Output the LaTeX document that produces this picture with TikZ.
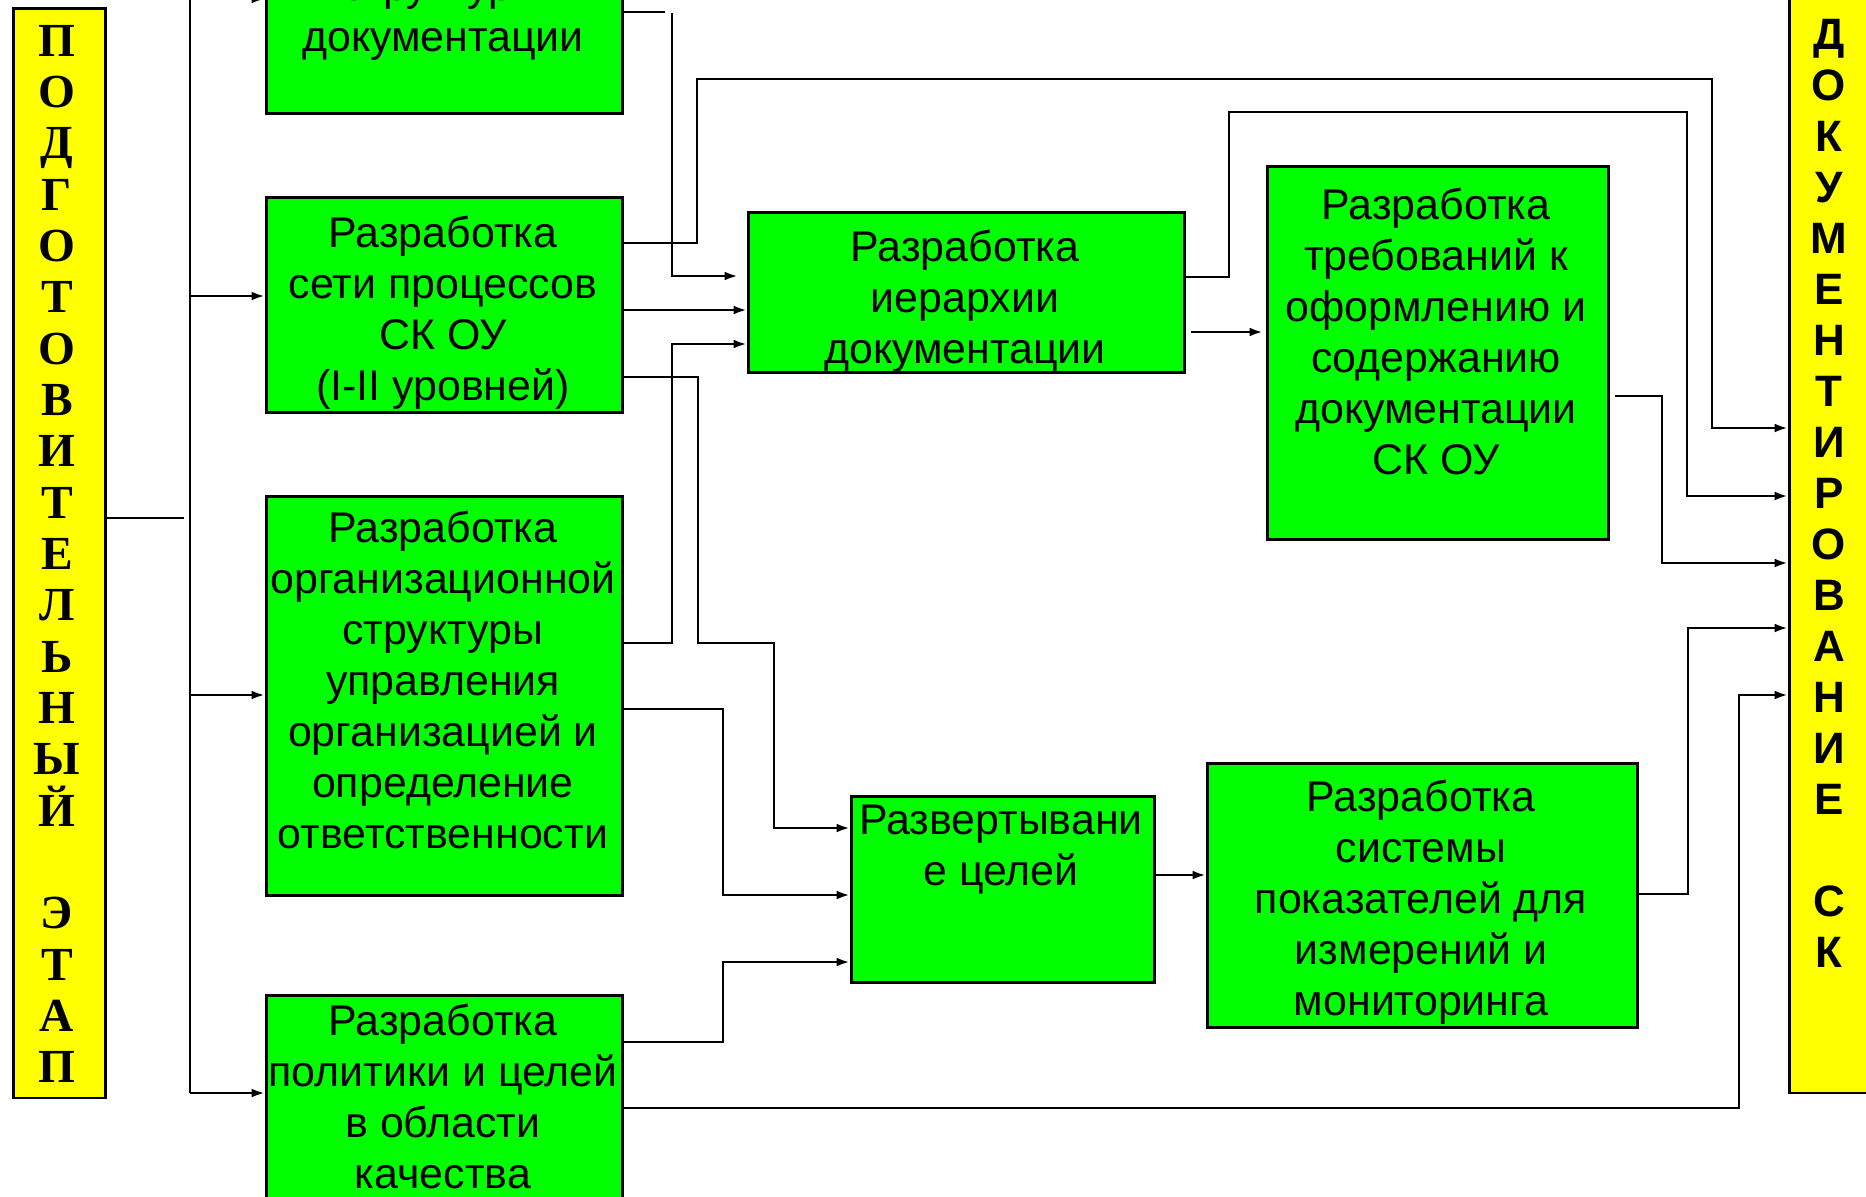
\documentclass[tikz,border=0pt]{standalone}
\usepackage{fontspec}
\setmainfont{Liberation Sans}
\newfontfamily\serifb{Liberation Serif}
\usetikzlibrary{arrows.meta}
\definecolor{gfill}{RGB}{0,255,0}
\definecolor{yfill}{RGB}{255,255,0}
\begin{document}
\begin{tikzpicture}[x=0.01cm,y=-0.01cm,
  gbox/.style={draw=black, line width=0.8pt, fill=gfill, anchor=north west, inner sep=0pt},
  ybox/.style={draw=black, line width=0.8pt, fill=yfill, anchor=north west, inner sep=0pt},
  gtext/.style={align=center, font=\fontsize{12.2}{14.5}\selectfont, inner sep=0pt},
  conn/.style={line width=0.75pt},
  arr/.style={conn, -{Latex[length=3.8pt,width=2.5pt]}}
]
\useasboundingbox (0,0) rectangle (1866,1196);
\clip (0,0) rectangle (1866,1196);

% yellow side boxes
\node[ybox, minimum width=0.92cm, minimum height=10.89cm] (ly) at (12,7) {};
\node[ybox, minimum width=1.2cm, minimum height=11.11cm] (ry) at (1788,-20) {};
\node[align=center, inner sep=0pt, font=\serifb\bfseries\fontsize{13.5}{14.6}\selectfont] (lt) at (57,554)
  {П\\О\\Д\\Г\\О\\Т\\О\\В\\И\\Т\\Е\\Л\\Ь\\Н\\Ы\\Й\\\mbox{}\\Э\\Т\\А\\П};
\node[align=center, inner sep=0pt, font=\bfseries\fontsize{12.5}{14.5}\selectfont] (rt) at (1829,493)
  {Д\\О\\К\\У\\М\\Е\\Н\\Т\\И\\Р\\О\\В\\А\\Н\\И\\Е\\\mbox{}\\С\\К};

% green boxes
\node[gbox, minimum width=3.56cm, minimum height=2.12cm] (b1) at (265,-100) {};
\node[gbox, minimum width=3.56cm, minimum height=2.15cm] (b2) at (265,196) {};
\node[gbox, minimum width=3.56cm, minimum height=3.99cm] (b3) at (265,495) {};
\node[gbox, minimum width=3.56cm, minimum height=2.60cm] (b4) at (265,994) {};
\node[gbox, minimum width=4.36cm, minimum height=1.60cm] (bm) at (747,211) {};
\node[gbox, minimum width=3.41cm, minimum height=3.73cm] (br) at (1266,165) {};
\node[gbox, minimum width=3.03cm, minimum height=1.86cm] (bd) at (850,795) {};
\node[gbox, minimum width=4.30cm, minimum height=2.64cm] (bp) at (1206,762) {};

% texts
\node[gtext] (t1) at (443,-11) {Разработка\\структуры\\документации};
\node[gtext] (t2) at (443,313) {Разработка\\сети процессов\\СК ОУ\\(I-II уровней)};
\node[gtext] (t3) at (443,680) {Разработка\\организационной\\структуры\\управления\\организацией и\\определение\\ответственности};
\node[gtext] (t4) at (443,1096) {Разработка\\политики и целей\\в области\\качества};
\node[gtext] (tm) at (965,301) {Разработка\\иерархии\\документации};
\node[gtext] (tr) at (1436,331) {Разработка\\требований к\\оформлению и\\содержанию\\документации\\СК ОУ};
\node[gtext] (td) at (1001,849) {Развертывани\\е целей};
\node[gtext] (tp) at (1421,902) {Разработка\\системы\\показателей для\\измерений и\\мониторинга};

% left trunk
\coordinate (trtop) at (190,-20);
\coordinate (trbot) at (190,1093);
\coordinate (tj) at (184,518);
\draw[conn] (trtop) -- (trbot);
\draw[conn] (ly.east |- 0,518) -- (tj);
\draw[arr] (trtop |- 0,-1) -- (b1.west |- 0,-1);
\draw[arr] (trtop |- 0,296) -- (b2.west |- 0,296);
\draw[arr] (trtop |- 0,695) -- (b3.west |- 0,695);
\draw[arr] (trbot) -- (b4.west |- trbot);

% connectors
\coordinate (c1a) at (665,12);
\coordinate (c1b) at (672,13);
\draw[conn] (b1.east |- 0,12) -- (c1a);
\draw[arr] (c1b) -- (672,276) -- ([xshift=-0.09cm]bm.west |- 0,276);
\draw[arr] (b2.east |- 0,243) -- (697,243) -- (697,79) -- (1712,79) -- (1712,428) -- (ry.west |- 0,428);
\draw[arr] (b2.east |- 0,310) -- (bm.west |- 0,310);
\draw[arr] (b3.east |- 0,643) -- (672,643) -- (672,344) -- (bm.west |- 0,344);
\draw[arr] (b2.east |- 0,377) -- (698,377) -- (698,643) -- (774,643) -- (774,828) -- (bd.west |- 0,828);
\draw[arr] (b3.east |- 0,709) -- (723,709) -- (723,895) -- (bd.west |- 0,895);
\draw[arr] (b4.east |- 0,1042) -- (723,1042) -- (723,962) -- (bd.west |- 0,962);
\draw[arr] (b4.east |- 0,1108) -- (1739,1108) -- (1739,695) -- (ry.west |- 0,695);
\draw[arr] (bm.east |- 0,277) -- (1229,277) -- (1229,112) -- (1687,112) -- (1687,496) -- (ry.west |- 0,496);
\draw[arr, shorten <=0.05cm] (bm.east |- 0,332) -- ([xshift=-0.03cm]br.west |- 0,332);
\draw[arr, shorten <=0.045cm] (br.east |- 0,396) -- (1662,396) -- (1662,563) -- (ry.west |- 0,563);
\draw[arr] (bd.east |- 0,875) -- (bp.west |- 0,875);
\draw[arr] (bp.east |- 0,894) -- (1688,894) -- (1688,628) -- (ry.west |- 0,628);
\end{tikzpicture}
\end{document}
